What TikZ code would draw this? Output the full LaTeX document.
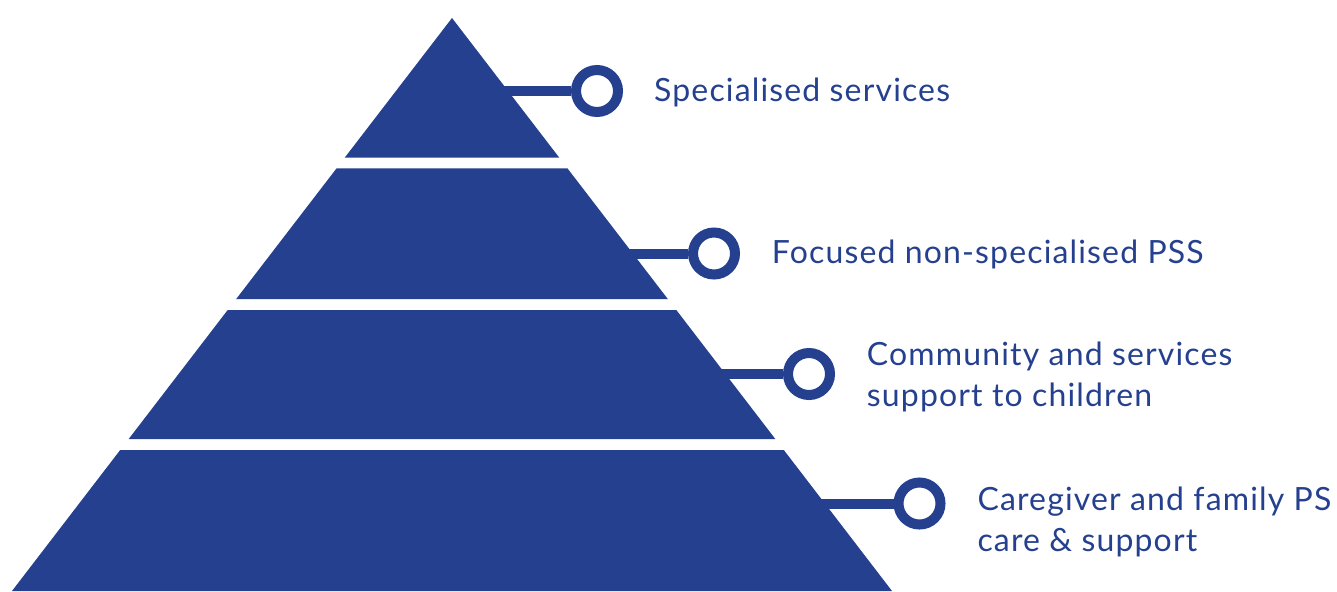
\documentclass[tikz,border=0pt]{standalone}
\usepackage{fontspec}
\setmainfont{Lato}[LetterSpace=3.6]
\definecolor{pyrblue}{RGB}{37,64,143}
\begin{document}
\begin{tikzpicture}[x=1pt,y=-1pt,
  tier/.style={fill=pyrblue,draw=none},
  ring/.style={circle,draw=pyrblue,line width=10pt,fill=white,minimum size=42pt,inner sep=0pt},
  bar/.style={draw=pyrblue,line width=10pt},
  lbl/.style={anchor=base west,inner sep=0pt,text=pyrblue,align=left,font=\fontsize{32}{41}\selectfont}]
\useasboundingbox (0,0) rectangle (1337,591);
% tiers
\path[tier] (452,18) -- (559.3,157.7) -- (344.7,157.7) -- cycle;
\path[tier] (336.6,168.3) -- (567.4,168.3) -- (667.8,299) -- (236.2,299) -- cycle;
\path[tier] (227.7,310) -- (676.3,310) -- (775.3,439) -- (128.7,439) -- cycle;
\path[tier] (120.2,450) -- (783.8,450) -- (892,591) -- (12,591) -- cycle;
% bar starts (inside tiers)
\coordinate (s1) at (500,91);
\coordinate (s2) at (624,253.5);
\coordinate (s3) at (716,374);
\coordinate (s4) at (815,503.5);
% rings
\node[ring] (c1) at (597,91) {};
\node[ring] (c2) at (714,253.5) {};
\node[ring] (c3) at (809,374) {};
\node[ring] (c4) at (919.5,503.5) {};
\draw[bar] (s1) -- (c1.west);
\draw[bar] (s2) -- (c2.west);
\draw[bar] (s3) -- (c3.west);
\draw[bar] (s4) -- (c4.west);
% labels
\node[lbl] (l1) at (654,101.7) {Specialised services};
\node[lbl] (l2) at (771.7,263.3) {Focused non-specialised PSS};
\node[lbl] (l3) at (866.7,406) {Community and services\\support to children};
\node[lbl] (l4) at (977.3,551.7) {Caregiver and family PS\\care \& support};
\end{tikzpicture}
\end{document}
